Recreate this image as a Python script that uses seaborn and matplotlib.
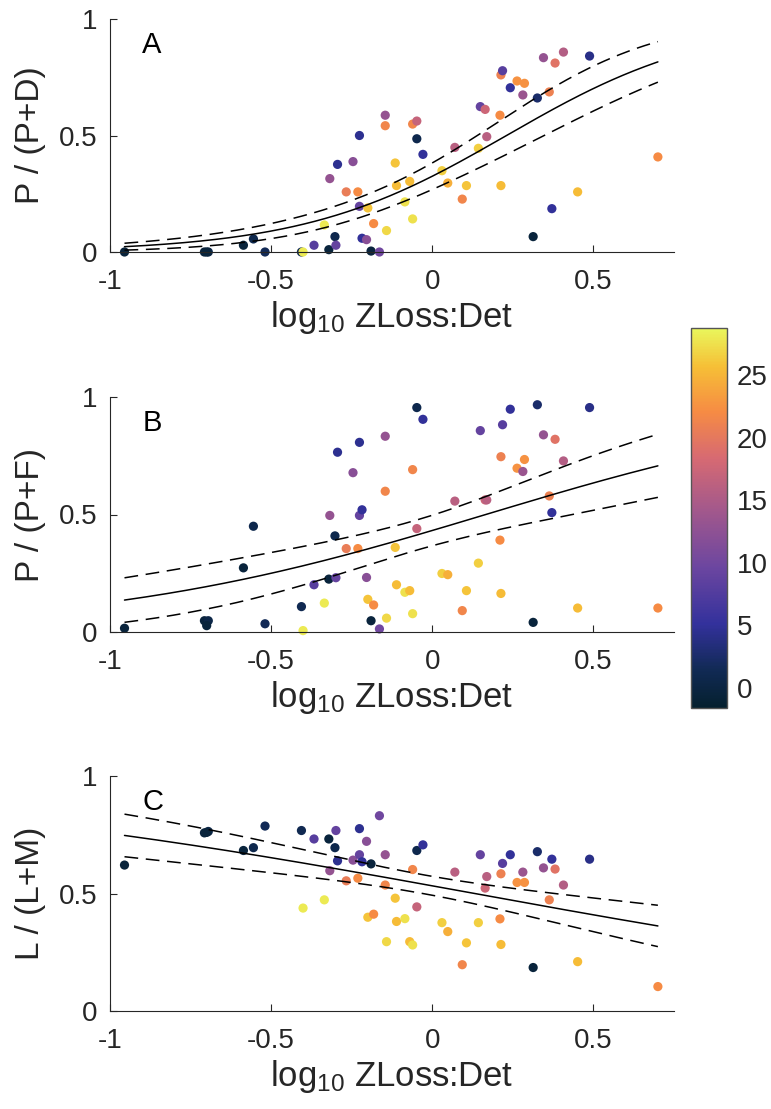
import numpy as np
import pandas as pd
import matplotlib
matplotlib.use("Agg")
import matplotlib.pyplot as plt
import seaborn as sns
from matplotlib.colors import LinearSegmentedColormap, Normalize
from matplotlib.ticker import FuncFormatter

# ---------------- data ----------------
log_ratio = [-0.955, -0.707, -0.695, -0.700, -0.586, -0.555, -0.519, -0.406, -0.401, -0.367,
             -0.335, -0.318, -0.321, -0.302, -0.299, -0.294, -0.267, -0.246, -0.231, -0.226,
             -0.226, -0.218, -0.204, -0.200, -0.190, -0.182, -0.164, -0.146, -0.146, -0.142,
             -0.115, -0.111, -0.085, -0.070, -0.061, -0.061, -0.048, -0.048, -0.029, 0.030,
             0.048, 0.070, 0.093, 0.106, 0.143, 0.149, 0.164, 0.169, 0.210, 0.213,
             0.213, 0.218, 0.242, 0.263, 0.286, 0.281, 0.313, 0.326, 0.345, 0.363,
             0.371, 0.381, 0.407, 0.451, 0.488, 0.700]
color_val = [-0.5, -0.3, 0.5, -0.5, -0.5, 0.8, 1.5, 1.2, 28, 8,
             28, 13, -0.5, 0.8, 9, 4.5, 20.5, 12, 22, 4.5,
             9, 5, 12, 26, -0.3, 22, 10, 13, 21.5, 27,
             26, 25.5, 27.5, 25.5, 27.5, 21.5, 17, 0.8, 5, 26.5,
             24.5, 16, 21.5, 26, 26.5, 9, 17.5, 16, 22, 25.5,
             21, 8, 5, 22.5, 22.5, 13.5, -0.5, 2.5, 13, 21,
             5, 19.5, 15.5, 25.5, 4, 22]
p_pd = [0, 0, 0, 0, 0.029, 0.056, 0, 0, 0, 0.029,
        0.116, 0.315, 0.01, 0.066, 0.029, 0.376, 0.258, 0.388, 0.258, 0.5,
        0.196, 0.059, 0.053, 0.189, 0.004, 0.122, 0, 0.587, 0.542, 0.092,
        0.382, 0.285, 0.215, 0.303, 0.142, 0.549, 0.562, 0.486, 0.419, 0.349,
        0.296, 0.449, 0.227, 0.285, 0.445, 0.624, 0.612, 0.495, 0.587, 0.285,
        0.76, 0.778, 0.705, 0.734, 0.724, 0.674, 0.066, 0.661, 0.834, 0.687,
        0.186, 0.811, 0.858, 0.258, 0.841, 0.408]
p_pf = [0.016, 0.048, 0.048, 0.027, 0.273, 0.45, 0.035, 0.108, 0.006, 0.201,
        0.123, 0.496, 0.225, 0.409, 0.231, 0.765, 0.355, 0.678, 0.355, 0.807,
        0.496, 0.52, 0.232, 0.139, 0.048, 0.115, 0.013, 0.833, 0.599, 0.059,
        0.36, 0.201, 0.169, 0.176, 0.078, 0.691, 0.44, 0.955, 0.905, 0.249,
        0.244, 0.557, 0.091, 0.176, 0.293, 0.857, 0.562, 0.562, 0.391, 0.164,
        0.746, 0.882, 0.948, 0.697, 0.734, 0.683, 0.041, 0.967, 0.839, 0.579,
        0.508, 0.82, 0.728, 0.102, 0.955, 0.102]
l_lm = [0.621, 0.758, 0.764, 0.76, 0.683, 0.695, 0.787, 0.768, 0.438, 0.732,
        0.473, 0.597, 0.732, 0.695, 0.768, 0.639, 0.554, 0.642, 0.565, 0.776,
        0.665, 0.635, 0.722, 0.399, 0.626, 0.412, 0.831, 0.665, 0.536, 0.295,
        0.48, 0.381, 0.393, 0.295, 0.281, 0.602, 0.443, 0.683, 0.707, 0.376,
        0.338, 0.591, 0.197, 0.29, 0.376, 0.665, 0.523, 0.572, 0.392, 0.283,
        0.584, 0.628, 0.665, 0.547, 0.547, 0.591, 0.185, 0.678, 0.609, 0.473,
        0.646, 0.604, 0.536, 0.21, 0.646, 0.104]

# logistic fit parameters per panel: intercept, slope, var(a), cov(a,b), var(b)
fit_intercept = [-0.73, -0.274, 0.131]
fit_slope = [3.17, 1.65, -0.997]
fit_var_a = [0.0676, 0.070, 0.026]
fit_cov = [0.028, 0.0155, 0.004]
fit_var_b = [0.467, 0.668, 0.232]

panel_letters = ["A", "B", "C"]
y_labels = ["P / (P+D)", "P / (P+F)", "L / (L+M)"]
x_label = r"log$_{10}$ ZLoss:Det"
x_ticks = [-1, -0.5, 0, 0.5]
y_ticks = [0, 0.5, 1]
cbar_ticks = [0, 5, 10, 15, 20, 25]
c_min, c_max = -1.6, 28.75

# ---------------- style ----------------
sns.set_style("ticks")
plt.rcParams["font.family"] = ["Liberation Sans", "DejaVu Sans"]
plt.rcParams["mathtext.fontset"] = "custom"
plt.rcParams["mathtext.rm"] = "Liberation Sans"
plt.rcParams["mathtext.it"] = "Liberation Sans"
txt_col = "#262626"

cmap = LinearSegmentedColormap.from_list(
    "thermal_like",
    [(0.0, "#05202e"), (0.10, "#112a55"), (0.22, "#33319c"),
     (0.37, "#6c46a0"), (0.52, "#a2588c"), (0.66, "#d76a72"),
     (0.78, "#f68b44"), (0.90, "#f6bf36"), (1.0, "#e9f75c")])
norm = Normalize(vmin=c_min, vmax=c_max)

df = pd.DataFrame({"x": log_ratio, "c": color_val,
                   "A": p_pd, "B": p_pf, "C": l_lm})

fig = plt.figure(figsize=(7.71, 11.09), dpi=100)
W, H = 771, 1109
boxes = [(19, 252), (397, 632), (776, 1011)]
left_px, right_px = 110, 674

fmt = FuncFormatter(lambda v, p: f"{v:g}")
xs = np.linspace(min(log_ratio), max(log_ratio), 200)
dash = (0, (9, 5))

for i, (top, bot) in enumerate(boxes):
    ax = fig.add_axes([left_px / W, (H - bot) / H, (right_px - left_px) / W, (bot - top) / H])
    col = "ABC"[i]
    sns.scatterplot(data=df, x="x", y=col, hue="c", palette=cmap, hue_norm=norm,
                    s=44, linewidth=0, legend=False, ax=ax, zorder=2, clip_on=False)
    a, b = fit_intercept[i], fit_slope[i]
    eta = a + b * xs
    p = 1.0 / (1.0 + np.exp(-eta))
    se = np.sqrt(fit_var_a[i] + 2 * fit_cov[i] * xs + fit_var_b[i] * xs ** 2)
    hw = p * (1 - p) * se
    fit_df = pd.DataFrame({"x": xs, "p": p, "lo": p - hw, "hi": p + hw})
    sns.lineplot(data=fit_df, x="x", y="p", color="black", lw=1.1, ax=ax, zorder=3)
    sns.lineplot(data=fit_df, x="x", y="hi", color="black", lw=1.1, ax=ax, zorder=3,
                 linestyle=dash)
    sns.lineplot(data=fit_df, x="x", y="lo", color="black", lw=1.1, ax=ax, zorder=3,
                 linestyle=dash)
    ax.set_xlim(-1, 0.75)
    ax.set_ylim(0, 1)
    ax.set_xticks(x_ticks)
    ax.set_yticks(y_ticks)
    ax.xaxis.set_major_formatter(fmt)
    ax.yaxis.set_major_formatter(fmt)
    ax.tick_params(direction="in", length=5, width=0.8, labelsize=20, colors=txt_col)
    ax.tick_params(axis="x", pad=12)
    ax.tick_params(axis="y", pad=9)
    for s in ["top", "right"]:
        ax.spines[s].set_visible(False)
    for s in ["left", "bottom"]:
        ax.spines[s].set_color(txt_col)
        ax.spines[s].set_linewidth(0.8)
    ax.set_xlabel(x_label, fontsize=25, color=txt_col, labelpad=3)
    ax.set_ylabel(y_labels[i], fontsize=24, color=txt_col, labelpad=9)
    ax.text(0.057, 0.89, panel_letters[i], transform=ax.transAxes, ha="left",
            va="center", fontsize=21, color="black")

cax = fig.add_axes([691 / W, (H - 708) / H, 36 / W, 380 / H])
sm = plt.cm.ScalarMappable(norm=norm, cmap=cmap)
cb = fig.colorbar(sm, cax=cax, ticks=cbar_ticks)
cb.outline.set_edgecolor("#555555")
cb.outline.set_linewidth(1.0)
cax.tick_params(direction="in", length=3, width=0.8, labelsize=20, colors=txt_col, pad=7)

fig.savefig("out.png", dpi=100)
